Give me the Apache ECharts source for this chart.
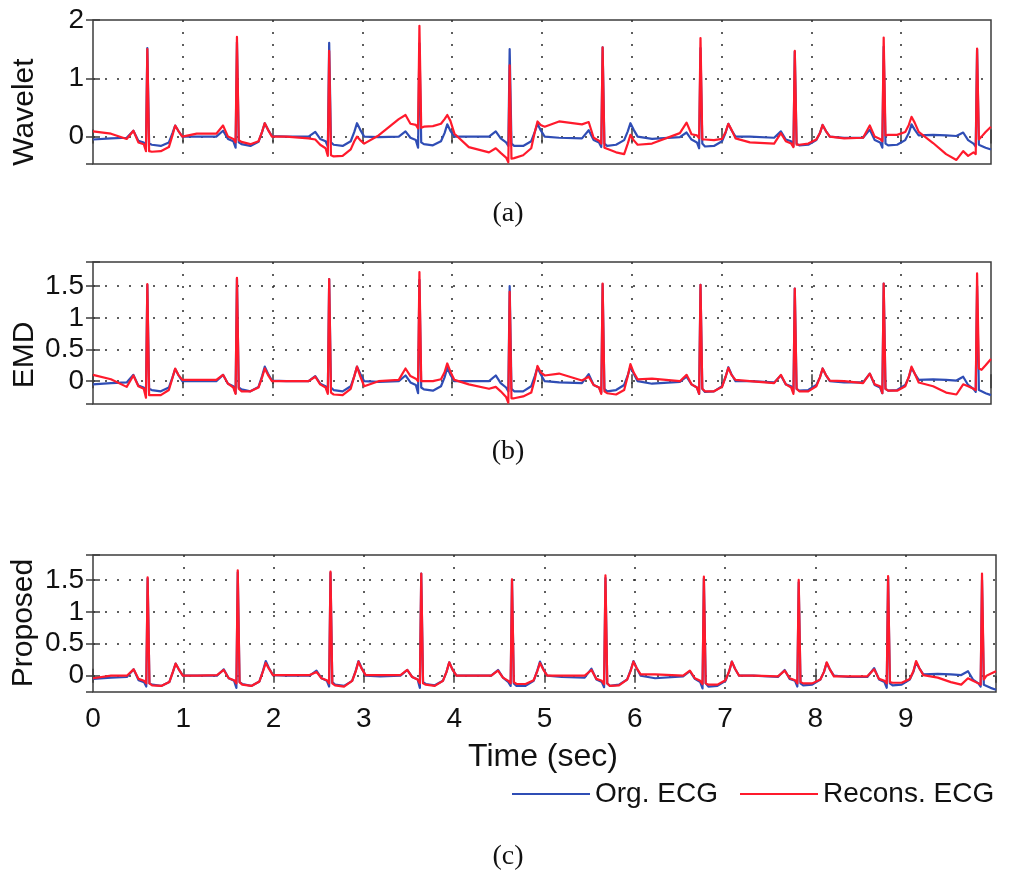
<!DOCTYPE html>
<html>
<head>
<meta charset="utf-8">
<script src="https://cdn.jsdelivr.net/npm/echarts@6/dist/echarts.min.js"></script>
<style>
  html, body { margin: 0; padding: 0; background: #ffffff; }
  #chart { width: 1024px; height: 875px; }
</style>
</head>
<body>
<div id="chart"></div>
<script>
// ---- Data (time in seconds, amplitude in mV-like units) ----
const timeSec = [
  0, 0.2,
  0.375, 0.45, 0.505, 0.565, 0.59, 0.605, 0.625, 0.655, 0.755, 0.845, 0.885, 0.915, 0.95, 0.995, 1.155,
  1.373, 1.448, 1.503, 1.563, 1.588, 1.603, 1.623, 1.653, 1.753, 1.843, 1.883, 1.913, 1.948, 1.993, 2.153,
  2.40, 2.475, 2.53, 2.59, 2.615, 2.63, 2.65, 2.68, 2.78, 2.87, 2.91, 2.94, 2.975, 3.02, 3.18,
  3.405, 3.48, 3.535, 3.595, 3.62, 3.635, 3.655, 3.685, 3.785, 3.875, 3.915, 3.945, 3.98, 4.025, 4.185,
  4.41, 4.485, 4.54, 4.60, 4.625, 4.64, 4.66, 4.69, 4.79, 4.88, 4.92, 4.95, 4.985, 5.03, 5.19,
  5.445, 5.52, 5.575, 5.635, 5.66, 5.675, 5.695, 5.725, 5.825, 5.915, 5.955, 5.985, 6.02, 6.065, 6.225,
  6.535, 6.61, 6.665, 6.725, 6.75, 6.765, 6.785, 6.815, 6.915, 7.005, 7.045, 7.075, 7.11, 7.155, 7.315,
  7.585, 7.66, 7.715, 7.775, 7.80, 7.815, 7.835, 7.865, 7.965, 8.055, 8.095, 8.125, 8.16, 8.205, 8.365,
  8.575, 8.65, 8.705, 8.765, 8.79, 8.805, 8.825, 8.855, 8.955, 9.045, 9.085, 9.115, 9.15, 9.195, 9.355,
  9.5,
  9.615, 9.69, 9.745, 9.805, 9.83, 9.845, 9.865, 9.895, 9.94, 10.0
];

// Original ECG (blue) - same signal in all three panels
const orgEcg = [
  -0.05, -0.03,
  -0.02, 0.10, -0.07, -0.10, -0.17, 1.52, -0.12, -0.14, -0.16, -0.10, 0.06, 0.19, 0.10, 0.00, 0.00,
  0.00, 0.10, -0.04, -0.08, -0.19, 1.62, -0.10, -0.13, -0.16, -0.09, 0.08, 0.23, 0.12, 0.01, 0.00,
  0.00, 0.08, -0.04, -0.08, -0.17, 1.61, -0.10, -0.14, -0.16, -0.08, 0.08, 0.23, 0.12, 0.00, -0.01,
  0.00, 0.09, -0.02, -0.06, -0.19, 1.60, -0.10, -0.13, -0.15, -0.08, 0.06, 0.21, 0.10, 0.00, 0.00,
  0.00, 0.09, -0.03, -0.10, -0.16, 1.50, -0.12, -0.16, -0.16, -0.08, 0.08, 0.22, 0.11, 0.00, -0.02,
  -0.03, 0.11, -0.06, -0.10, -0.18, 1.53, -0.12, -0.16, -0.14, -0.06, 0.09, 0.23, 0.12, 0.00, -0.04,
  -0.01, 0.07, -0.05, -0.10, -0.20, 1.52, -0.12, -0.17, -0.16, -0.08, 0.07, 0.22, 0.11, 0.00, 0.00,
  -0.02, 0.09, -0.05, -0.08, -0.17, 1.46, -0.12, -0.15, -0.14, -0.06, 0.06, 0.20, 0.10, 0.00, -0.02,
  -0.02, 0.12, -0.06, -0.10, -0.19, 1.54, -0.12, -0.15, -0.14, -0.06, 0.06, 0.21, 0.12, 0.02, 0.03,
  0.02,
  0.01, 0.07, -0.06, -0.12, -0.17, 1.50, -0.14, -0.16, -0.19, -0.22
];

// Reconstructed ECG (red), panel (a) Wavelet
const waveletRecon = [
  0.09, 0.05,
  -0.04, 0.10, -0.10, -0.13, -0.25, 1.50, -0.25, -0.26, -0.25, -0.18, 0.02, 0.19, 0.10, 0.00, 0.05,
  0.05, 0.19, 0.00, -0.04, -0.10, 1.71, -0.06, -0.09, -0.13, -0.08, 0.08, 0.23, 0.12, 0.00, 0.00,
  -0.03, -0.05, -0.14, -0.20, -0.33, 1.47, -0.32, -0.34, -0.33, -0.22, -0.08, 0.00, -0.06, -0.12, 0.02,
  0.30, 0.37, 0.22, 0.20, 0.14, 1.90, 0.15, 0.17, 0.18, 0.22, 0.30, 0.37, 0.27, 0.05, -0.18,
  -0.27, -0.20, -0.28, -0.36, -0.44, 1.22, -0.38, -0.37, -0.32, -0.20, 0.08, 0.26, 0.20, 0.17, 0.26,
  0.21, 0.25, -0.02, -0.07, -0.12, 1.53, -0.19, -0.21, -0.27, -0.30, -0.12, 0.03, -0.06, -0.14, -0.12,
  0.06, 0.24, 0.04, 0.02, -0.03, 1.69, -0.05, -0.05, -0.06, -0.04, 0.08, 0.22, 0.12, -0.03, -0.10,
  -0.12, 0.06, -0.08, -0.12, -0.18, 1.47, -0.14, -0.14, -0.12, -0.05, 0.06, 0.20, 0.10, 0.00, -0.03,
  -0.02, 0.19, 0.00, -0.04, -0.08, 1.70, 0.02, 0.03, 0.03, 0.08, 0.20, 0.34, 0.24, 0.08, -0.11,
  -0.30,
  -0.40, -0.25, -0.33, -0.27, -0.30, 1.51, -0.05, 0.00, 0.08, 0.17
];

// Reconstructed ECG (red), panel (b) EMD
const emdRecon = [
  0.10, 0.03,
  -0.09, 0.09, -0.08, -0.12, -0.26, 1.53, -0.22, -0.22, -0.22, -0.14, 0.05, 0.20, 0.10, 0.02, 0.02,
  0.02, 0.10, -0.04, -0.10, -0.20, 1.63, -0.12, -0.16, -0.16, -0.10, 0.06, 0.20, 0.10, 0.00, 0.00,
  0.00, 0.07, -0.05, -0.10, -0.20, 1.61, -0.18, -0.21, -0.22, -0.12, 0.08, 0.23, 0.08, -0.08, 0.00,
  0.02, 0.20, 0.08, 0.04, 0.00, 1.72, 0.00, 0.00, 0.00, 0.03, 0.14, 0.28, 0.15, 0.02, -0.05,
  -0.12, -0.09, -0.16, -0.25, -0.34, 1.41, -0.27, -0.27, -0.24, -0.18, 0.03, 0.24, 0.14, 0.09, 0.12,
  0.01, 0.07, -0.06, -0.10, -0.20, 1.54, -0.16, -0.19, -0.21, -0.14, 0.08, 0.27, 0.14, 0.03, 0.04,
  0.00, 0.10, -0.05, -0.10, -0.20, 1.52, -0.12, -0.16, -0.16, -0.09, 0.07, 0.21, 0.10, 0.02, 0.00,
  -0.03, 0.10, -0.05, -0.10, -0.20, 1.46, -0.12, -0.16, -0.16, -0.08, 0.06, 0.20, 0.10, 0.01, 0.00,
  -0.03, 0.12, -0.05, -0.08, -0.19, 1.54, -0.12, -0.15, -0.15, -0.08, 0.07, 0.23, 0.12, -0.02, -0.08,
  -0.18,
  -0.21, -0.05, -0.08, -0.12, -0.14, 1.70, 0.20, 0.18, 0.25, 0.35
];

// Reconstructed ECG (red), panel (c) Proposed
const proposedRecon = [
  -0.04, 0.00,
  0.00, 0.10, -0.05, -0.08, -0.12, 1.54, -0.12, -0.15, -0.16, -0.10, 0.06, 0.19, 0.10, 0.00, 0.00,
  0.01, 0.09, -0.04, -0.07, -0.12, 1.65, -0.10, -0.14, -0.16, -0.09, 0.07, 0.20, 0.11, 0.01, 0.01,
  0.01, 0.06, -0.04, -0.07, -0.12, 1.63, -0.12, -0.15, -0.17, -0.08, 0.07, 0.22, 0.11, 0.01, 0.01,
  0.01, 0.09, -0.02, -0.06, -0.12, 1.60, -0.12, -0.14, -0.16, -0.08, 0.06, 0.21, 0.10, 0.00, 0.00,
  0.00, 0.08, -0.03, -0.08, -0.12, 1.51, -0.10, -0.13, -0.13, -0.07, 0.07, 0.20, 0.10, 0.00, 0.00,
  0.00, 0.09, -0.05, -0.08, -0.13, 1.57, -0.12, -0.16, -0.15, -0.06, 0.08, 0.22, 0.12, 0.02, 0.02,
  0.00, 0.08, -0.04, -0.08, -0.13, 1.55, -0.12, -0.14, -0.14, -0.07, 0.07, 0.22, 0.11, 0.00, 0.00,
  -0.01, 0.08, -0.04, -0.07, -0.12, 1.50, -0.10, -0.12, -0.12, -0.06, 0.06, 0.21, 0.10, -0.01, -0.01,
  -0.01, 0.10, -0.05, -0.08, -0.12, 1.56, -0.10, -0.11, -0.11, -0.05, 0.07, 0.23, 0.12, 0.01, -0.03,
  -0.10,
  -0.14, -0.04, -0.08, -0.12, -0.14, 1.60, -0.06, 0.00, 0.03, 0.07
];

const panelNames = ['Wavelet', 'EMD', 'Proposed'];
const panelTags = ['(a)', '(b)', '(c)'];
const reconSeries = [waveletRecon, emdRecon, proposedRecon];
const seriesNames = ['Org. ECG', 'Recons. ECG'];
const yTickStep = [1, 0.5, 0.5];
const yExtent = [[-0.47, 2], [-0.36, 1.88], [-0.255, 1.89]];
const xTickLabels = ['0', '1', '2', '3', '4', '5', '6', '7', '8', '9'];

// ---- Styling / layout ----
const BLUE = '#2f4db5';
const RED = '#ff1a2c';
const FRAME = '#3c3c3c';
const SANS = '"Liberation Sans", Arial, Helvetica, sans-serif';
const SERIF = '"Liberation Serif", "Times New Roman", serif';

const gridBoxes = [
  { left: 93, top: 20, width: 898, height: 144 },
  { left: 93, top: 262, width: 898, height: 142 },
  { left: 93, top: 555, width: 903, height: 137 }
];

const pair = (ys) => timeSec.map((t, i) => [t, ys[i]]);

const grids = [], xAxes = [], yAxes = [], series = [];
const dotted = { type: [2, 10], color: '#2a2a2a', width: 1.5 };
const tickStyle = { inside: true, length: 7, lineStyle: { color: FRAME, width: 1.5 } };

gridBoxes.forEach((g, i) => {
  grids.push(Object.assign({ show: true, borderColor: FRAME, borderWidth: 1.5, backgroundColor: 'transparent', containLabel: false }, g));
  xAxes.push({
    type: 'value', gridIndex: i, min: 0, max: 10, interval: 1,
    axisLine: { show: false }, axisTick: tickStyle,
    axisLabel: i === 2 ? {
      show: true, fontSize: 28, fontFamily: SANS, color: '#111', margin: 13,
      showMaxLabel: false,
      formatter: (v) => (xTickLabels[Math.round(v)] !== undefined && Math.abs(v - Math.round(v)) < 1e-6) ? xTickLabels[Math.round(v)] : ''
    } : { show: false },
    splitLine: { show: true, showMinLine: false, showMaxLine: false, lineStyle: dotted }
  });
  xAxes.push({
    type: 'value', gridIndex: i, position: 'top', min: 0, max: 10, interval: 1,
    axisLine: { show: false }, axisTick: tickStyle, axisLabel: { show: false }, splitLine: { show: false }
  });
  const step = yTickStep[i];
  const fmt = (v) => {
    const k = v / step;
    if (Math.abs(k - Math.round(k)) > 1e-6) return '';
    return String(Math.round(v * 100) / 100);
  };
  yAxes.push({
    type: 'value', gridIndex: i, min: yExtent[i][0], max: yExtent[i][1],
    minInterval: step, maxInterval: step,
    axisLine: { show: false }, axisTick: tickStyle,
    axisLabel: { show: true, fontSize: 28, fontFamily: SANS, color: '#111', margin: 9, formatter: fmt, showMinLabel: false },
    splitLine: { show: true, showMinLine: false, showMaxLine: false, lineStyle: dotted }
  });
  yAxes.push({
    type: 'value', gridIndex: i, position: 'right', min: yExtent[i][0], max: yExtent[i][1],
    minInterval: step, maxInterval: step,
    axisLine: { show: false }, axisTick: tickStyle, axisLabel: { show: false }, splitLine: { show: false }
  });
  series.push({
    name: seriesNames[0], type: 'line', xAxisIndex: 2 * i, yAxisIndex: 2 * i,
    data: pair(orgEcg), symbol: 'none', showSymbol: false, clip: true, z: 2,
    lineStyle: { color: BLUE, width: 2.2, join: 'round' }, itemStyle: { color: BLUE }
  });
  series.push({
    name: seriesNames[1], type: 'line', xAxisIndex: 2 * i, yAxisIndex: 2 * i,
    data: pair(reconSeries[i]), symbol: 'none', showSymbol: false, clip: true, z: 3,
    lineStyle: { color: RED, width: 2.2, join: 'round' }, itemStyle: { color: RED }
  });
});

const textEl = (text, x, y, font, rot) => ({
  type: 'text', x: x, y: y, rotation: rot || 0, silent: true,
  style: { text: text, font: font, fill: '#111', align: 'center', verticalAlign: 'middle', textAlign: 'center', textVerticalAlign: 'middle' }
});

const graphics = [
  textEl(panelNames[0], 25, 112, '30px ' + SANS, Math.PI / 2),
  textEl(panelNames[1], 25, 355, '30px ' + SANS, Math.PI / 2),
  textEl(panelNames[2], 24, 623, '30px ' + SANS, Math.PI / 2),
  textEl(panelTags[0], 508, 214, '28px ' + SERIF),
  textEl(panelTags[1], 508, 452, '28px ' + SERIF),
  textEl(panelTags[2], 508, 857, '28px ' + SERIF),
  textEl('Time (sec)', 543, 757, '32px ' + SANS)
];

const legendCommon = {
  orient: 'horizontal', icon: 'rect', itemWidth: 78, itemHeight: 2, itemGap: 0, selectedMode: true,
  textStyle: { fontSize: 28, fontFamily: SANS, color: '#111' },
  padding: 0
};

const option = {
  animation: false,
  backgroundColor: '#ffffff',
  grid: grids,
  xAxis: xAxes,
  yAxis: yAxes,
  series: series,
  legend: [
    Object.assign({ data: [seriesNames[0]], left: 512, top: 780 }, legendCommon),
    Object.assign({ data: [seriesNames[1]], left: 740, top: 780 }, legendCommon)
  ],
  graphic: graphics
};

const chart = echarts.init(document.getElementById('chart'), null, { renderer: 'canvas' });
chart.setOption(option);
</script>
</body>
</html>
